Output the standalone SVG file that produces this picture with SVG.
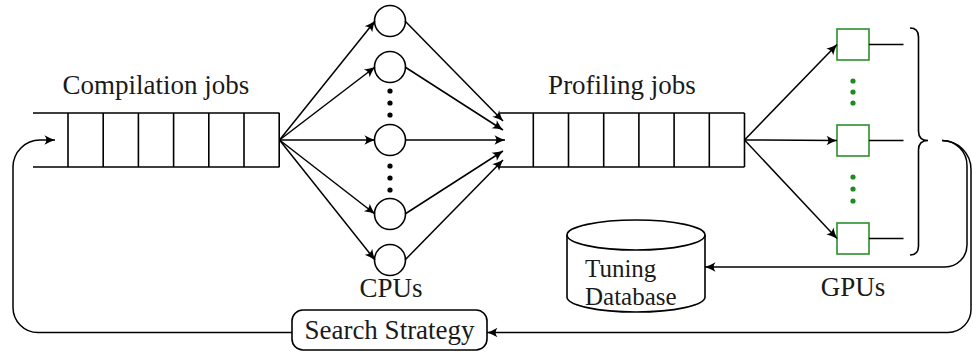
<svg xmlns="http://www.w3.org/2000/svg" width="973" height="354" viewBox="0 0 973 354">
<style>
  .ln { fill: none; stroke: #000; stroke-width: 1.6; }
  .arr { fill: none; stroke: #000; stroke-width: 1.5; marker-end: url(#ah); }
  .cpu { fill: #fff; stroke: #000; stroke-width: 1.6; }
  .gpu { fill: #fff; stroke: #2b8f2b; stroke-width: 1.6; }
  .gdot { fill: #1f8a1f; }
  .bdot { fill: #000; }
  .t { font-family: "Liberation Serif", "DejaVu Serif", serif; font-size: 27px; fill: #1a1a1a; }
  .db { font-size: 25px; }
  .c { text-anchor: middle; }
</style>
<defs>
  <marker id="ah" viewBox="-12 -6 13 12" refX="0" refY="0" markerWidth="13" markerHeight="12" markerUnits="userSpaceOnUse" orient="auto">
    <path d="M0,0 Q-5,-1.6 -10.5,-4.8 Q-6.8,0 -10.5,4.8 Q-5,1.6 0,0 Z" fill="#000"/>
  </marker>
</defs>

<g id="compilation-queue">
  <path class="ln" d="M33,113 H279.5 M33,167 H279.5 M68,113 V167 M103.2,113 V167 M138.4,113 V167 M173.6,113 V167 M208.8,113 V167 M244,113 V167 M279.2,113 V167"/>
  <text class="t c" x="156" y="94">Compilation jobs</text>
</g>

<g id="cpus">
  <circle class="cpu" cx="390" cy="21" r="15.5"/>
  <circle class="cpu" cx="390" cy="67" r="15.5"/>
  <circle class="cpu" cx="390" cy="140" r="15.5"/>
  <circle class="cpu" cx="390" cy="214" r="15.5"/>
  <circle class="cpu" cx="390" cy="260" r="15.5"/>
  <circle class="bdot" cx="390" cy="91" r="2.6"/>
  <circle class="bdot" cx="390" cy="103" r="2.6"/>
  <circle class="bdot" cx="390" cy="115" r="2.6"/>
  <circle class="bdot" cx="390" cy="166" r="2.6"/>
  <circle class="bdot" cx="390" cy="178" r="2.6"/>
  <circle class="bdot" cx="390" cy="190" r="2.6"/>
  <text class="t c" x="391" y="297">CPUs</text>
</g>

<g id="profiling-queue">
  <path class="ln" d="M500,113 H744.5 M500,167 H744.5 M533.3,113 V167 M568.5,113 V167 M603.7,113 V167 M638.9,113 V167 M674.1,113 V167 M709.3,113 V167 M744.5,113 V167"/>
  <text class="t c" x="622" y="94">Profiling jobs</text>
</g>

<g id="gpus">
  <rect class="gpu" x="837" y="29" width="32" height="31"/>
  <rect class="gpu" x="837" y="125" width="32" height="31"/>
  <rect class="gpu" x="837" y="223" width="32" height="31"/>
  <path class="ln" d="M869,44.5 H903.5 M869,140.5 H903.5 M869,238.5 H903.5"/>
  <circle class="gdot" cx="853" cy="81" r="2.6"/>
  <circle class="gdot" cx="853" cy="92" r="2.6"/>
  <circle class="gdot" cx="853" cy="103" r="2.6"/>
  <circle class="gdot" cx="853" cy="177" r="2.6"/>
  <circle class="gdot" cx="853" cy="189" r="2.6"/>
  <circle class="gdot" cx="853" cy="201" r="2.6"/>
  <path class="ln" d="M910,28 Q918.5,28 918.5,37 V131 Q918.5,140.5 928,140.5 Q918.5,140.5 918.5,150 V246 Q918.5,255 910,255"/>
  <text class="t c" x="853" y="296">GPUs</text>
</g>

<g id="database">
  <path class="ln" d="M567,235 V297 A69,15 0 0 0 705,297 V235"/>
  <ellipse class="ln" cx="636" cy="235" rx="69" ry="15" fill="#fff"/>
  <text class="t db" x="585" y="277">Tuning</text>
  <text class="t db" x="585" y="305">Database</text>
</g>

<g id="search-strategy">
  <rect class="ln" x="292" y="310" width="195" height="40" rx="11" ry="11"/>
  <text class="t c" x="389.5" y="339">Search Strategy</text>
</g>

<g id="connectors">
  <path class="arr" d="M279.5,140 L375,21"/>
  <path class="arr" d="M279.5,140 L375,67"/>
  <path class="arr" d="M279.5,140 L375,140"/>
  <path class="arr" d="M279.5,140 L375,214"/>
  <path class="arr" d="M279.5,140 L375,260"/>
  <path class="arr" d="M405,21 L503,121"/>
  <path class="arr" d="M405,67 L503,130"/>
  <path class="arr" d="M405,140 L505,140"/>
  <path class="arr" d="M405,214 L503,151"/>
  <path class="arr" d="M405,260 L503,160"/>
  <path class="arr" d="M744.5,140 L837,44.5"/>
  <path class="arr" d="M744.5,140 L837,140.5"/>
  <path class="arr" d="M744.5,140 L837,238.5"/>
  <path class="arr" d="M942,140.5 A25,25 0 0 1 967,165.5 V245 A22,22 0 0 1 945,267 H705"/>
  <path class="arr" d="M942,140.5 A29,29 0 0 1 971,169.5 V309 A23,23 0 0 1 948,332.5 H487"/>
  <path class="arr" d="M292,332.5 H38 A25,25 0 0 1 13,307.5 V167 A27,27 0 0 1 40,140 H55"/>
</g>
</svg>
